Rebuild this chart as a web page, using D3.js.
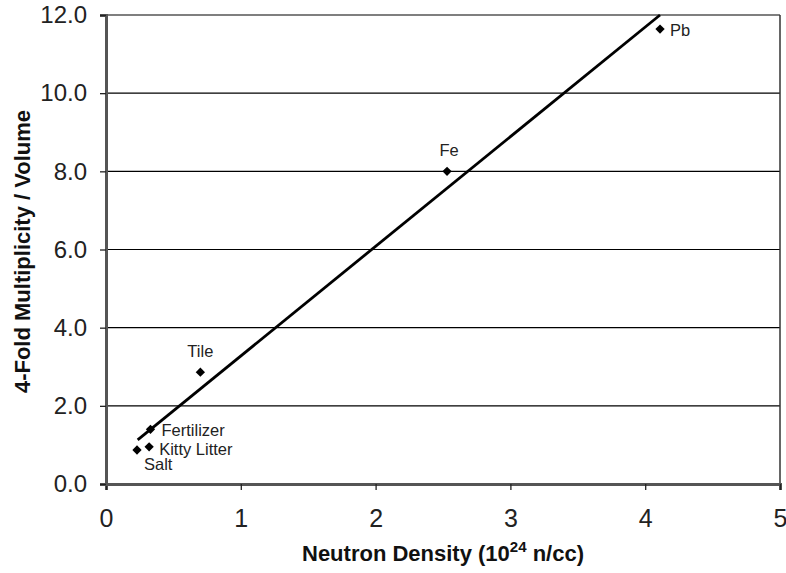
<!DOCTYPE html>
<html><head><meta charset="utf-8">
<script src="https://cdn.jsdelivr.net/npm/d3@7"></script>
<style>body{margin:0;background:#fff}svg{display:block}text{font-family:"Liberation Sans",Arial,sans-serif}</style>
</head><body>
<svg id="c" width="786" height="573"></svg>
<script>
const names = ["Salt","Kitty Litter","Fertilizer","Tile","Fe","Pb"];
const xVals = [0.23, 0.32, 0.33, 0.70, 2.53, 4.11];
const yVals = [0.87, 0.95, 1.40, 2.86, 8.00, 11.64];
const fitX = [0.235, 4.11];
const fitY = [1.13, 12.0];
const xTicks = [0,1,2,3,4,5];
const yTicks = [0,2,4,6,8,10,12];

const svg = d3.select("#c");
const m = {l:106, r:780, t:15, b:484};
const x = d3.scaleLinear().domain([0,5]).range([m.l, m.r]);
const y = d3.scaleLinear().domain([0,12]).range([m.b, m.t]);

// gridlines
svg.append("g").selectAll("line").data(yTicks.filter(d=>d>0)).join("line")
  .attr("x1", m.l).attr("x2", m.r).attr("y1", d=>y(d)).attr("y2", d=>y(d))
  .attr("stroke","#000").attr("stroke-width",1.2);
// right border
svg.append("line").attr("x1",m.r).attr("x2",m.r).attr("y1",m.t).attr("y2",m.b).attr("stroke","#333").attr("stroke-width",1.5);

// axes
const xa = svg.append("g").attr("transform",`translate(0,${m.b})`)
  .call(d3.axisBottom(x).tickValues(xTicks).tickFormat(d3.format("d")).tickSize(6).tickPadding(19));
const ya = svg.append("g").attr("transform",`translate(${m.l},0)`)
  .call(d3.axisLeft(y).tickValues(yTicks).tickFormat(d3.format(".1f")).tickSize(6).tickPadding(13));
[xa,ya].forEach(a=>{
  a.select(".domain").attr("stroke","#555").attr("stroke-width",3);
  a.selectAll(".tick line").attr("stroke","#222").attr("stroke-width",1.3);
  a.selectAll(".tick text").attr("fill","#222");
});
xa.selectAll(".tick text").attr("font-size",25);
ya.selectAll(".tick text").attr("font-size",24);

// fit line
svg.append("line").attr("x1",x(fitX[0])).attr("y1",y(fitY[0])).attr("x2",x(fitX[1])).attr("y2",y(fitY[1]))
  .attr("stroke","#000").attr("stroke-width",2.8);

// points
const pts = names.map((n,i)=>({n, x:xVals[i], y:yVals[i]}));
svg.append("g").selectAll("path").data(pts).join("path")
  .attr("transform", d=>`translate(${x(d.x)},${y(d.y)})`)
  .attr("d", d3.symbol(d3.symbolDiamond2, 55))
  .attr("fill","#000");

// labels
const lab = {
  "Salt": {dx:7, dy:20, a:"start"},
  "Kitty Litter": {dx:10, dy:8, a:"start"},
  "Fertilizer": {dx:11, dy:7, a:"start"},
  "Tile": {dx:0, dy:-15, a:"middle"},
  "Fe": {dx:2, dy:-15, a:"middle"},
  "Pb": {dx:10, dy:7, a:"start"}
};
svg.append("g").selectAll("text").data(pts).join("text")
  .attr("x", d=>x(d.x)+lab[d.n].dx).attr("y", d=>y(d.y)+lab[d.n].dy)
  .attr("text-anchor", d=>lab[d.n].a)
  .attr("font-size",16.5).attr("fill","#222").text(d=>d.n);

// axis titles
const xt = svg.append("text").attr("x",(m.l+m.r)/2).attr("y",561).attr("text-anchor","middle")
  .attr("font-size",22).attr("font-weight","bold").attr("fill","#111");
xt.append("tspan").text("Neutron Density (10");
xt.append("tspan").attr("font-size",15).attr("dy",-9).text("24");
xt.append("tspan").attr("dy",9).text(" n/cc)");

svg.append("text").attr("transform",`translate(30,${(m.t+m.b)/2 + 2}) rotate(-90)`).attr("text-anchor","middle")
  .attr("font-size",22).attr("font-weight","bold").attr("fill","#111").text("4-Fold Multiplicity / Volume");
</script>
</body></html>
